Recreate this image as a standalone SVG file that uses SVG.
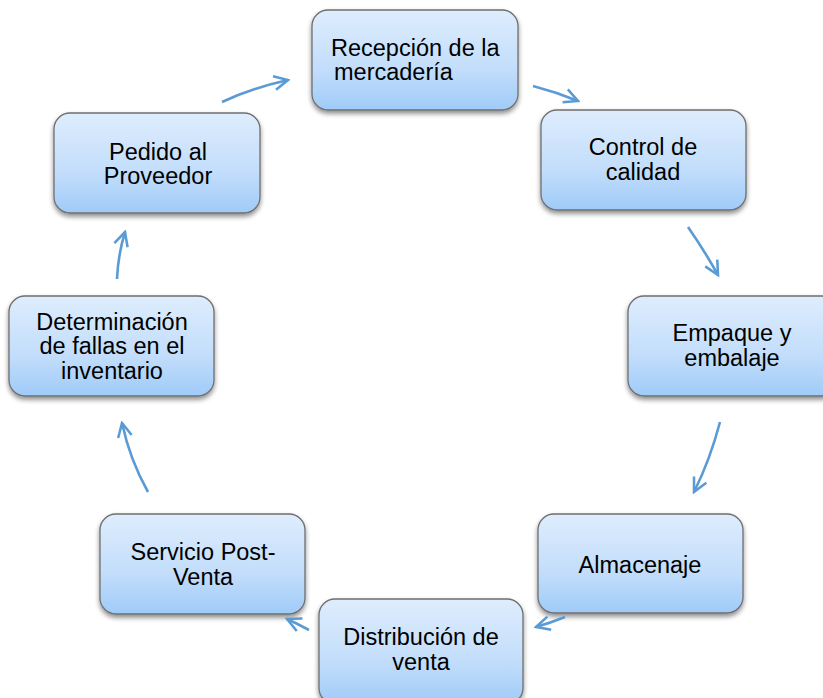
<svg xmlns="http://www.w3.org/2000/svg" width="823" height="698" viewBox="0 0 823 698">
<defs>
<linearGradient id="g" x1="0" y1="0" x2="0" y2="1">
<stop offset="0" stop-color="#deedfd"/>
<stop offset="0.6" stop-color="#c2ddfb"/>
<stop offset="1" stop-color="#9fcbf8"/>
</linearGradient>
<filter id="sh" x="-10%" y="-10%" width="120%" height="130%">
<feGaussianBlur in="SourceAlpha" stdDeviation="2.5"/>
<feOffset dx="0" dy="3" result="b"/>
<feComponentTransfer><feFuncA type="linear" slope="0.45"/></feComponentTransfer>
<feMerge><feMergeNode/><feMergeNode in="SourceGraphic"/></feMerge>
</filter>
<marker id="ah" viewBox="0 0 16 16" refX="14" refY="8" markerWidth="17" markerHeight="17" markerUnits="userSpaceOnUse" orient="auto">
<path d="M1,1.5 L14,8 L1,14.5" fill="none" stroke="#5b9bd5" stroke-width="2.4"/>
</marker>
</defs>
<style>
.box{fill:url(#g);stroke:#6f6f6f;stroke-width:1.3;filter:url(#sh)}
.t{font-family:"Liberation Sans",Arial,sans-serif;font-size:23.5px;fill:#000;text-anchor:middle}
.c{fill:none;stroke:#5b9bd5;stroke-width:2.6;marker-end:url(#ah)}
</style>
<rect width="823" height="698" fill="#fff"/>
<g id="n1"><rect class="box" x="312" y="10" width="206" height="100" rx="16"/>
<text class="t" style="text-anchor:start" x="331" y="56">Recepción de la</text>
<text class="t" style="text-anchor:start" x="334" y="80">mercadería</text></g>
<g id="n2"><rect class="box" x="541" y="110" width="205" height="100" rx="16"/>
<text class="t" x="643" y="155">Control de</text>
<text class="t" x="643" y="180">calidad</text></g>
<g id="n3"><rect class="box" x="628" y="296" width="210" height="100" rx="16"/>
<text class="t" x="732" y="341">Empaque y</text>
<text class="t" x="732" y="366">embalaje</text></g>
<g id="n4"><rect class="box" x="538" y="514" width="205" height="99" rx="16"/>
<text class="t" x="640" y="573">Almacenaje</text></g>
<g id="n5"><rect class="box" x="319" y="599" width="204" height="105" rx="16"/>
<text class="t" x="421" y="645">Distribución de</text>
<text class="t" x="421" y="670">venta</text></g>
<g id="n6"><rect class="box" x="100" y="514" width="205" height="100" rx="16"/>
<text class="t" x="203" y="560">Servicio Post-</text>
<text class="t" x="203" y="585">Venta</text></g>
<g id="n7"><rect class="box" x="9" y="296" width="205" height="100" rx="16"/>
<text class="t" x="112" y="330">Determinación</text>
<text class="t" x="112" y="354">de fallas en el</text>
<text class="t" x="112" y="379">inventario</text></g>
<g id="n8"><rect class="box" x="54" y="113" width="206" height="100" rx="16"/>
<text class="t" x="158" y="160">Pedido al</text>
<text class="t" x="158" y="184">Proveedor</text></g>
<g id="connectors">
<path class="c" d="M222,102 Q252,88 288,80"/>
<path class="c" d="M533,86 Q556,92 578,101"/>
<path class="c" d="M688,227 Q704,250 718,275"/>
<path class="c" d="M720,422 Q710,460 694,492"/>
<path class="c" d="M565,617 Q550,623 536,627"/>
<path class="c" d="M309,630 Q298,624 287,619"/>
<path class="c" d="M148,492 Q130,460 122,423"/>
<path class="c" d="M117,279 Q118,255 125,232"/>
</g>
</svg>
